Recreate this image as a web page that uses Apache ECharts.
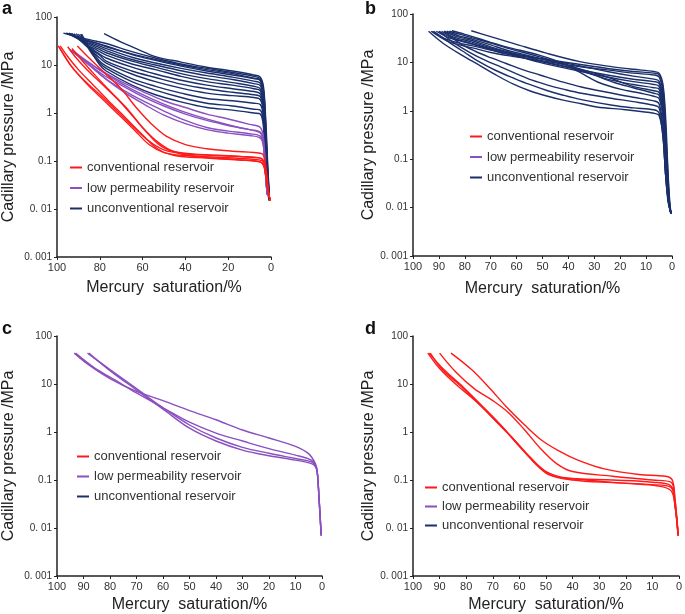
<!DOCTYPE html>
<html>
<head>
<meta charset="utf-8">
<script src="https://cdn.jsdelivr.net/npm/echarts@6/dist/echarts.min.js"></script>
<style>
  html, body { margin: 0; padding: 0; background: #fff; }
  #main { width: 685px; height: 614px; }
</style>
</head>
<body>
<div id="main"></div>
<script>
// legend names / colours / axis labels
var seriesNames = ['conventional reservoir', 'low permeability reservoir', 'unconventional reservoir'];
var seriesColors = ['#ff1a1a', '#8a4fc0', '#1b2f6b'];
var panelLetters = ['a', 'b', 'c', 'd'];
var yTickLabels = ['0. 001', '0. 01', '0.1', '1', '10', '100'];
var xSteps = [20, 10, 10, 10];

// each curve: [mercury saturation %, capillary pressure MPa]
// panel a
var aConventional = [
  [[99.5,25],[97,17],[93,9],[87,4.5],[80,2.2],[72,1],[64,0.45],[57,0.22],[50,0.15],[40,0.13],[25,0.12],[10,0.11],[4,0.1],[2.5,0.06],[1,0.02],[0.3,0.015]],
  [[98.5,25],[95,15],[90,8],[83,3.8],[76,1.8],[68,0.8],[60,0.35],[53,0.18],[45,0.13],[30,0.115],[15,0.105],[5,0.095],[3,0.07],[1.5,0.025],[0.3,0.015]],
  [[95,24],[91,14],[86,8],[79,4],[71,1.8],[64,0.8],[57,0.35],[51,0.2],[43,0.15],[30,0.135],[15,0.125],[5,0.115],[3,0.08],[1.5,0.025],[0.3,0.015]],
  [[90.5,25],[85,14],[78,7],[70,3.2],[63,1.3],[56,0.6],[49,0.33],[40,0.22],[30,0.18],[18,0.16],[8,0.15],[4,0.14],[2.5,0.08],[1,0.02],[0.3,0.015]],
  [[99,24],[96,14],[92,8],[86,4.2],[79,2.2],[72,1.1],[65,0.55],[58,0.28],[50,0.17],[40,0.14],[25,0.13],[10,0.12],[4,0.11],[2.5,0.06],[1,0.02],[0.3,0.015]],
  [[93,22],[88,12],[82,6],[75,2.8],[67,1.2],[60,0.5],[53,0.25],[46,0.16],[36,0.125],[20,0.11],[8,0.1],[4,0.09],[2.5,0.05],[1,0.02],[0.3,0.015]]
];
var aLowPerm = [
  [[94,21],[88,14],[80,8],[70,4.5],[60,2.8],[50,1.8],[40,1.3],[30,0.95],[20,0.75],[10,0.58],[5,0.5],[3.5,0.3],[2.5,0.05],[1.8,0.02]],
  [[93.5,20],[87,12],[79,6.5],[70,3.8],[60,2.2],[50,1.4],[40,0.95],[30,0.7],[20,0.55],[10,0.45],[5,0.4],[3.5,0.25],[2.5,0.05],[1.8,0.02]],
  [[93,20],[86,11],[78,5.5],[69,3],[60,1.8],[50,1.1],[40,0.7],[30,0.5],[20,0.42],[10,0.37],[5,0.33],[3.5,0.22],[2.5,0.05],[1.8,0.02]],
  [[92.5,19],[85,10],[77,5],[68,2.6],[59,1.5],[50,0.9],[40,0.6],[30,0.45],[20,0.38],[10,0.34],[5,0.3],[3.5,0.2],[2.5,0.05],[1.8,0.02]],
  [[92,19],[85,11],[76,6],[66,3.3],[56,2],[46,1.3],[36,0.9],[25,0.65],[15,0.5],[7,0.42],[4.5,0.36],[3.5,0.2],[2.5,0.05],[1.8,0.02]]
];
var aUnconventional = [
  [[78,45],[70,30],[62,21],[54,15],[42,11.5],[30,9],[18,7.5],[8,6.2],[5,5.6],[3.5,3.5],[2.5,0.8],[1.5,0.08],[0.8,0.02]],
  [[97,46],[90,38],[84,33],[77,28],[65,19],[54,14],[42,10.5],[30,8.5],[18,7],[8,5.8],[5,5.2],[3.5,3],[2.5,0.6],[1.5,0.06],[0.8,0.02]],
  [[96,46],[89,36],[83,30],[77,25],[65,16.5],[54,12.5],[42,9.5],[30,7.5],[18,6.2],[8,5.2],[5,4.7],[3.5,2.5],[2.5,0.5],[1.5,0.05],[0.8,0.02]],
  [[95.5,46],[88,34],[82,27],[77,22],[65,14.5],[54,11],[42,8.5],[30,6.8],[18,5.6],[8,4.6],[5,4.2],[3.5,2.2],[2.5,0.4],[1.5,0.05],[0.8,0.018]],
  [[95,45],[88,32],[82,25],[77,20],[65,13],[54,10],[42,7.6],[30,6],[18,5],[8,4.1],[5,3.7],[3.5,2],[2.5,0.35],[1.5,0.04],[0.8,0.018]],
  [[94,45],[87,30],[81,22],[77,18],[65,12],[54,9],[42,6.6],[30,5.2],[18,4.3],[8,3.6],[5,3.2],[3.5,1.7],[2.5,0.3],[1.5,0.04],[0.8,0.018]],
  [[93.5,45],[87,28],[81,20],[77,16],[65,10.5],[54,8],[42,5.8],[30,4.5],[18,3.8],[8,3.2],[5,2.9],[3.5,1.5],[2.5,0.25],[1.5,0.035],[0.8,0.017]],
  [[93,45],[86,26],[81,18],[77,14],[65,9],[54,6.5],[42,4.8],[30,3.8],[18,3.2],[8,2.8],[5,2.5],[3.5,1.3],[2.5,0.2],[1.5,0.03],[0.8,0.017]],
  [[92,45],[86,24],[80,16],[77,12],[65,7.5],[54,5.5],[42,4],[30,3.2],[18,2.7],[8,2.4],[5,2.2],[3.5,1.1],[2.5,0.18],[1.5,0.03],[0.8,0.016]],
  [[91,45],[85,22],[80,14],[77,11],[65,6.5],[54,4.5],[42,3.3],[30,2.6],[18,2.3],[8,2.1],[5,1.9],[3.5,1],[2.5,0.15],[1.5,0.03],[0.8,0.016]],
  [[90,44],[84,20],[80,12],[77,9.5],[65,5.2],[54,3.6],[42,2.6],[30,2],[18,1.8],[8,1.6],[5,1.5],[3.5,0.8],[2.5,0.12],[1.5,0.025],[0.8,0.016]],
  [[89,44],[84,18],[80,11],[77,8.5],[65,4.5],[54,3],[42,2.1],[30,1.6],[18,1.4],[8,1.2],[5,1.15],[3.5,0.6],[2.5,0.1],[1.5,0.025],[0.8,0.015]],
  [[88.5,44],[83,16],[80,10],[77,7.5],[65,3.8],[54,2.4],[42,1.7],[30,1.3],[18,1.15],[8,1],[5,0.95],[3.5,0.5],[2.5,0.08],[1.5,0.022],[0.8,0.015]],
  [[94.5,46],[88,35],[82,29],[77,24],[65,17],[54,13],[42,10],[30,8],[18,6.6],[8,5.3],[5,4.9],[3.5,2.8],[2.5,0.5],[1.5,0.05],[0.8,0.02]]
];
// panel b
var bUnconventional = [
  [[77.5,45],[70,34],[61,24.5],[48.5,15.5],[35.6,10.4],[22.8,8.1],[15,7.2],[7,6.5],[5,6],[3.5,3.5],[2.5,0.8],[1.5,0.05],[0.8,0.012],[0.3,0.0075]],
  [[94,44],[88,24],[81,14],[74,8.5],[68,5.5],[61,3.5],[55,2.6],[48,2],[42,1.66],[35,1.4],[29,1.2],[18,1.05],[7,0.89],[5,0.8],[3.5,0.3],[2.5,0.05],[1.5,0.015],[0.3,0.0075]],
  [[92,44],[86,26],[80,16],[74,10],[68,6.8],[61,4.7],[55,3.5],[48,2.6],[42,2.1],[35,1.7],[23,1.3],[15,1.15],[7,1.05],[5,0.9],[3.5,0.3],[2.5,0.05],[1.5,0.015],[0.3,0.0075]],
  [[90,44],[84,25],[78,16],[72,11],[66,8],[60,5.8],[54,4.3],[48,3.4],[42,2.8],[35,2.3],[23,1.8],[15,1.55],[7,1.3],[5,1.15],[3.5,0.35],[2.5,0.05],[1.5,0.013],[0.3,0.0075]],
  [[88,44],[82,25],[76,17],[70,12.5],[64,9.5],[58,7.2],[51,5.5],[42,3.9],[35,3.1],[23,2.3],[15,1.9],[7,1.6],[5,1.4],[3.5,0.45],[2.5,0.07],[1.5,0.015],[0.3,0.0075]],
  [[93,44],[87,28],[82,23],[77,20],[70,16],[64,14],[51,11],[38,8.5],[25,7],[15,6],[7,5.5],[5,5],[3.5,2.5],[2.5,0.4],[1.5,0.03],[0.8,0.01],[0.3,0.0075]],
  [[92.5,44],[87,30],[82,25],[77,22],[70,18],[64,15],[51,12],[38,9.5],[25,7.5],[15,6.5],[7,6],[5,5.6],[3.5,3],[2.5,0.5],[1.5,0.04],[0.8,0.01],[0.3,0.0075]],
  [[91,44],[86,32],[81,27],[77,24],[70,19],[64,16],[51,12],[38,9],[25,6.5],[15,5.2],[7,4.5],[5,4.1],[3.5,2],[2.5,0.3],[1.5,0.03],[0.8,0.01],[0.3,0.0075]],
  [[90,44],[85,32],[80,27],[77,24],[70,18.5],[64,15],[51,10.5],[38,7.5],[25,5.5],[15,4.5],[7,4],[5,3.7],[3.5,1.8],[2.5,0.25],[1.5,0.025],[0.8,0.01],[0.3,0.0075]],
  [[89,44],[84,33],[80,29],[77,26],[70,20],[64,16],[51,10],[38,7],[25,5],[15,4],[7,3.5],[5,3.2],[3.5,1.5],[2.5,0.2],[1.5,0.02],[0.8,0.009],[0.3,0.0075]],
  [[88,44],[83,34],[80,31],[77,28],[70,21],[64,17],[51,11],[38,7.5],[25,4.5],[15,3.5],[7,3],[5,2.8],[3.5,1.2],[2.5,0.15],[1.5,0.02],[0.8,0.009],[0.3,0.0075]],
  [[87,44],[82,35],[79,32],[77,30],[70,23],[64,18],[51,12],[38,8],[25,5],[15,3.2],[7,2.6],[5,2.4],[3.5,1],[2.5,0.12],[1.5,0.018],[0.8,0.009],[0.3,0.0075]],
  [[86,44],[81,37],[77,32],[70,25],[64,20],[51,13],[38,8],[30,5.5],[22,3.8],[15,3],[7,2.3],[5,2.1],[3.5,0.9],[2.5,0.1],[1.5,0.016],[0.8,0.009],[0.3,0.0075]],
  [[85,45],[80,38],[77,34],[70,26],[64,21],[51,14],[42,9.5],[35,6],[28,3.8],[20,2.8],[12,2.3],[7,2],[5,1.8],[3.5,0.7],[2.5,0.08],[1.5,0.015],[0.8,0.009],[0.3,0.0075]]
];
// panel c
var cLowPerm = [
  [[93.5,44],[88,25],[80,13],[70,7],[60,4.5],[50,2.8],[40,1.8],[30,1.1],[20,0.75],[10,0.5],[5,0.35],[2.5,0.22],[1.8,0.15],[1.2,0.05],[0.3,0.007]],
  [[93,44],[86,22],[78,12],[70,6.5],[60,3.2],[50,1.6],[40,0.95],[30,0.65],[20,0.45],[10,0.33],[4,0.26],[2.5,0.21],[1.8,0.15],[1.2,0.05],[0.3,0.007]],
  [[88.5,44],[80,20],[70,8],[60,3.2],[50,1.4],[40,0.75],[30,0.48],[20,0.36],[10,0.28],[4,0.24],[2.5,0.2],[1.8,0.15],[1.2,0.05],[0.3,0.007]],
  [[88,44],[80,19],[70,7.5],[60,3],[50,1.2],[40,0.65],[30,0.42],[20,0.32],[10,0.26],[4,0.22],[2.5,0.19],[1.8,0.14],[1.2,0.05],[0.3,0.007]]
];
// panel d
var dConventional = [
  [[85.7,44],[78,20],[71,8],[65,3.4],[58,1.4],[52,0.7],[45,0.4],[38,0.26],[28,0.17],[15,0.13],[5,0.12],[2.5,0.1],[1.5,0.04],[0.3,0.007]],
  [[90,44],[84,18],[77,8],[70,4.5],[64,2.5],[58,1.1],[52,0.45],[46,0.22],[40,0.15],[25,0.12],[10,0.1],[3,0.09],[1.5,0.04],[0.3,0.007]],
  [[94.4,44],[90,21],[84,10],[77,4.7],[70,2],[63,0.8],[56,0.3],[50,0.15],[42,0.11],[25,0.1],[10,0.09],[3,0.075],[1.5,0.03],[0.3,0.007]],
  [[93.5,44],[89,20],[82,9],[75,3.8],[68,1.5],[61,0.6],[55,0.25],[49,0.13],[40,0.1],[25,0.088],[10,0.08],[3,0.07],[1.5,0.03],[0.3,0.007]],
  [[94,44],[88,19],[81,8.5],[74,3.5],[67,1.4],[60,0.5],[53,0.2],[47,0.12],[35,0.1],[20,0.085],[8,0.075],[3,0.06],[1.5,0.03],[0.3,0.007]]
];

var myChart = echarts.init(document.getElementById('main'), null, {renderer: 'canvas'});

var grids = [
  {left: 54, top: 17, width: 217, height: 240},
  {left: 413, top: 14, width: 259, height: 242},
  {left: 52, top: 336, width: 270, height: 242},
  {left: 413, top: 336, width: 268, height: 242}
];
var xNameGaps = [23, 25, 21, 21];
var yNameGaps = [40, 36, 40, 36];
var legendPos = [
  {left: 70, top: 161, gap: 7.5},
  {left: 470, top: 130, gap: 7.5},
  {left: 77, top: 450, gap: 7},
  {left: 425, top: 481, gap: 6}
];
var titlePos = [[2, 0], [365, 0], [2, 320], [365, 320]];

var xAxes = [], yAxes = [], legends = [], titles = [], series = [];
for (var i = 0; i < 4; i++) {
  xAxes.push({
    gridIndex: i, type: 'value', inverse: true, min: 0, max: 100, interval: xSteps[i],
    name: 'Mercury  saturation/%', nameLocation: 'middle', nameGap: xNameGaps[i],
    nameTextStyle: {fontSize: 16, color: '#222'},
    axisLine: {onZero: false, lineStyle: {color: '#222', width: 1.5}},
    axisTick: {show: true, length: 3, lineStyle: {color: '#222'}},
    axisLabel: {fontSize: 11, color: '#333', margin: 5},
    splitLine: {show: false}
  });
  yAxes.push({
    gridIndex: i, type: 'log', logBase: 10, min: 0.001, max: 100, position: 'left',
    name: 'Cadillary pressure /MPa', nameLocation: 'middle', nameGap: yNameGaps[i],
    nameTextStyle: {fontSize: 16, color: '#222'},
    axisLine: {show: true, onZero: false, lineStyle: {color: '#222', width: 1.5}},
    axisTick: {show: true, length: 3, lineStyle: {color: '#222'}},
    axisLabel: {
      fontSize: 10, color: '#333', margin: 5,
      formatter: function (v) { return yTickLabels[Math.round(Math.log10(v)) + 3]; }
    },
    splitLine: {show: false}
  });
  legends.push({
    data: seriesNames, orient: 'vertical', left: legendPos[i].left, top: legendPos[i].top,
    itemGap: legendPos[i].gap, itemWidth: 12, itemHeight: 2, icon: 'rect', itemTextGap: 3,
    padding: 0, selectedMode: false, textStyle: {fontSize: 13, color: '#333'}
  });
  titles.push({
    text: panelLetters[i], left: titlePos[i][0], top: titlePos[i][1], padding: 0,
    textStyle: {fontSize: 18, fontWeight: 'bold', color: '#111'}
  });
}

function addCurves(curves, panel, type) {
  curves.forEach(function (c) {
    series.push({
      type: 'line', name: seriesNames[type], xAxisIndex: panel, yAxisIndex: panel,
      data: c, showSymbol: false, symbol: 'none', smooth: 0.35, silent: true,
      lineStyle: {width: 1.4, color: seriesColors[type]},
      itemStyle: {color: seriesColors[type]}
    });
  });
}
// draw order: navy first, then purple, red on top (as in panel a)
addCurves(aUnconventional, 0, 2);
addCurves(aLowPerm, 0, 1);
addCurves(aConventional, 0, 0);
addCurves(bUnconventional, 1, 2);
addCurves(cLowPerm, 2, 1);
addCurves(dConventional, 3, 0);

var option = {
  animation: false,
  textStyle: {fontFamily: 'Liberation Sans, Arial, sans-serif'},
  title: titles,
  legend: legends,
  grid: grids,
  xAxis: xAxes,
  yAxis: yAxes,
  series: series
};
myChart.setOption(option);
</script>
</body>
</html>
